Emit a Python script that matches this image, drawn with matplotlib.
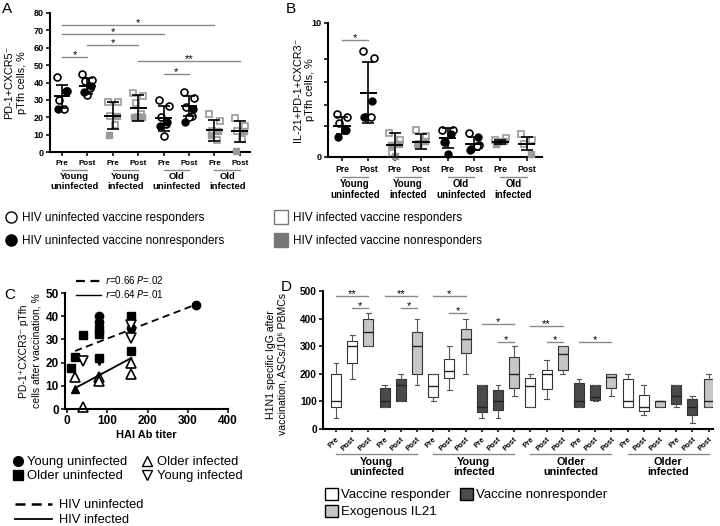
import matplotlib
matplotlib.use('Agg')
import matplotlib.pyplot as plt
from matplotlib.lines import Line2D
from matplotlib.patches import Patch
import numpy as np

plt.rcParams['font.family'] = ['Liberation Sans', 'DejaVu Sans']

# =============================================================================
# DATA
# =============================================================================
# --- Panel A: PD-1+CXCR5- pTfh cells, % ---
a_ticks = ['Pre', 'Post'] * 4
a_groups = ['Young\nuninfected', 'Young\ninfected', 'Old\nuninfected', 'Old\ninfected']
a_infected = [False, True, False, True]
a_open = [[43, 35, 30, 25], [45, 41.5, 41, 37, 33], [29, 29, 20.5, 15.5], [34, 32.5, 28, 22, 20],
          [30, 26.5, 20, 16, 9], [34.5, 31, 26, 20.5, 20], [22, 18, 12, 7], [19.5, 15, 12, 7.5]]
a_filled = [[35, 25], [38, 34.5], [20.5, 10], [20, 20], [17.5, 15], [25, 17.5], [12, 10], [12, 0.5]]
a_mean = [32, 38, 21, 25.5, 19.3, 26.5, 12.5, 12]
a_sd = [6.5, 4.5, 7.5, 7.5, 7, 6, 6, 6]
a_sig = [(0, 6, 73, '*'), (0, 4, 68, '*'), (1, 3, 61.5, '*'), (0, 1, 54.5, '*'),
         (3, 7, 52.5, '**'), (4, 5, 45, '*')]

# --- Panel B: IL-21+PD-1+CXCR3- pTfh cells, % ---
b_open = [[3.2, 3.0, 2.5, 2.0], [7.9, 7.4, 3.0, 3.0], [1.8, 1.25, 0.3], [2.0, 1.6, 1.0],
          [2.05, 2.05, 1.15], [1.8, 0.9, 0.6, 0.8], [1.3, 1.4, 1.1], [1.7, 1.3, 1.0]]
b_filled = [[2.0, 1.5], [4.2, 3.0], [1.0, 0.9, 0.05], [1.2, 1.0], [1.7, 1.15, 0.2], [1.5, 0.5],
            [1.2, 1.0], [0.2]]
b_mean = [2.35, 4.8, 0.9, 1.15, 1.45, 1.0, 1.15, 1.0]
b_sd = [0.6, 2.3, 0.9, 0.55, 0.75, 0.5, 0.15, 0.5]
b_sig = [(0, 1, 8.75, '*')]
b_minor = [2.3, 3.9, 5.6, 7.3]

# --- Panel C: HAI titer vs pTfh after vaccination ---
c_yu_x, c_yu_y = [80, 80, 160, 320], [40, 37.5, 35, 45]
c_ou_x = [10, 20, 40, 80, 80, 80, 160, 160]
c_ou_y = [17.5, 22.5, 32, 34.5, 32.5, 22, 40, 25]
c_oi_x, c_oi_y = [20, 40, 80, 80, 160, 160], [14, 1, 14, 12, 20, 15]
c_oi_nr_x, c_oi_nr_y = [20], [8.5]
c_yi_x, c_yi_y = [40, 160, 160], [20.5, 36, 30.5]
c_yi_nr_x, c_yi_nr_y = [80], [20.5]
c_fit_uninf = (0.0667, 23.67, 20, 320)   # slope, intercept, x from, x to
c_fit_inf = (0.0929, 7.14, 20, 160)

# --- Panel D: H1N1 specific IgG ASCs ---
d_ticks = ['Pre', 'Post', 'Post'] * 8
d_kind = ['resp', 'resp', 'il21', 'non', 'non', 'il21'] * 4
d_groups = ['Young\nuninfected', 'Young\ninfected', 'Older\nuninfected', 'Older\ninfected']
d_whislo = [40, 180, 300, 80, 100, 160, 100, 140, 200, 40, 40, 120,
            80, 110, 200, 80, 100, 120, 80, 50, 80, 80, 20, 80]
d_q1 = [80, 240, 300, 80, 100, 200, 115, 185, 275, 60, 70, 150,
        80, 145, 215, 80, 105, 150, 80, 65, 80, 90, 50, 80]
d_med = [100, 300, 350, 100, 160, 300, 155, 210, 325, 80, 100, 200,
         155, 200, 272, 100, 115, 190, 100, 80, 100, 120, 80, 100]
d_q3 = [200, 320, 400, 150, 180, 350, 200, 255, 362, 160, 140, 260,
        185, 215, 300, 165, 160, 200, 180, 125, 100, 160, 110, 180]
d_whishi = [240, 340, 420, 160, 200, 400, 200, 300, 400, 160, 160, 300,
            200, 250, 300, 180, 160, 200, 200, 160, 100, 160, 120, 200]
d_sig = [(0, 2, 483, '**'), (1, 2, 437, '*'), (3, 5, 483, '**'), (4, 5, 437, '*'),
         (6, 8, 483, '*'), (7, 8, 419, '*'), (9, 11, 380, '*'), (10, 11, 316, '*'),
         (12, 14, 374, '**'), (13, 14, 316, '*'), (15, 17, 316, '*')]

# =============================================================================
# STYLE HELPERS
# =============================================================================
W, H = 720, 526
GRAY_SQ = '#9a9a9a'
SIG_GRAY = '#8a8a8a'
BOX_COL = {'resp': 'white', 'non': '#4a4a4a', 'il21': '#c6c6c6'}

fig = plt.figure(figsize=(7.2, 5.26), dpi=100)


def px_axes(left, top, right, bottom):
    return fig.add_axes([left / W, 1 - bottom / H, (right - left) / W, (bottom - top) / H])


def style_axis(ax, lw=1.5, fs=6.5):
    for s in ['top', 'right']:
        ax.spines[s].set_visible(False)
    for s in ['left', 'bottom']:
        ax.spines[s].set_linewidth(lw)
    ax.tick_params(width=1.1, length=3, direction='out', pad=1.5, labelsize=fs)
    for lab in ax.get_xticklabels() + ax.get_yticklabels():
        lab.set_fontweight('bold')


def sig_bars(ax, bars, xs, fs=8):
    for a, b, y, lab in bars:
        ax.plot([xs[a], xs[b]], [y, y], color=SIG_GRAY, lw=1, clip_on=False)
        ax.annotate(lab, ((xs[a] + xs[b]) / 2, y), xytext=(0, 1.5), textcoords='offset points',
                    ha='center', va='center', fontsize=fs, annotation_clip=False)


def group_labels(ax, labels, centers, half, y_line, y_text, fs):
    trans = ax.get_xaxis_transform()
    for lab, c in zip(labels, centers):
        ax.plot([c - half, c + half], [y_line, y_line], color=SIG_GRAY, lw=1,
                transform=trans, clip_on=False)
        ax.text(c, y_text, lab, transform=trans, ha='center', va='top', fontsize=fs,
                fontweight='bold', linespacing=1.1)


JIT_OPEN = np.array([-0.2, 0.2, -0.1, 0.1, 0.0, -0.25, 0.25])
JIT_FILL = np.array([0.15, -0.15, 0.0])


def scatter_sd(ax, open_vals, filled_vals, means, sds, infected, ms=5):
    for i in range(len(means)):
        inf = infected[i // 2]
        xo = i + JIT_OPEN[:len(open_vals[i])]
        xf = i + JIT_FILL[:len(filled_vals[i])]
        if inf:
            ax.plot(xo, open_vals[i], 's', ms=ms, mfc='white', mec=GRAY_SQ, mew=1.2,
                    ls='none', clip_on=False, zorder=3)
            ax.plot(xf, filled_vals[i], 's', ms=ms, mfc=GRAY_SQ, mec=GRAY_SQ,
                    ls='none', clip_on=False, zorder=3)
        else:
            ax.plot(xo, open_vals[i], 'o', ms=ms, mfc='white', mec='black', mew=1.2,
                    ls='none', clip_on=False, zorder=3)
            ax.plot(xf, filled_vals[i], 'o', ms=ms, mfc='black', mec='black',
                    ls='none', clip_on=False, zorder=3)
    xs = np.arange(len(means))
    ax.errorbar(xs, means, yerr=sds, fmt='none', ecolor='black', elinewidth=1.2,
                capsize=4, capthick=1.2, zorder=4)
    ax.hlines(means, xs - 0.33, xs + 0.33, color='black', lw=1.4, zorder=4)


# =============================================================================
# PANEL A
# =============================================================================
axA = px_axes(50, 13, 250, 152)
scatter_sd(axA, a_open, a_filled, a_mean, a_sd, a_infected)
axA.set_xlim(-0.47, 7.4)
axA.set_ylim(0, 80)
axA.set_yticks(np.arange(0, 81, 10))
axA.set_xticks(np.arange(len(a_ticks)))
axA.set_xticklabels(a_ticks)
style_axis(axA, fs=6.5)
axA.tick_params(axis='x', labelsize=5.8, pad=3)
sig_bars(axA, a_sig, np.arange(len(a_ticks)))
group_labels(axA, a_groups, np.arange(0.5, 8, 2), 0.5, -0.13, -0.145, 6.8)
axA.set_ylabel('PD-1+CXCR5\u207b\npTfh cells, %', fontsize=7.8, linespacing=1.3)
axA.yaxis.set_label_coords(-0.115, 0.5)

# =============================================================================
# PANEL B
# =============================================================================
axB = px_axes(328, 23, 542, 157)
scatter_sd(axB, b_open, b_filled, b_mean, b_sd, a_infected)
axB.set_xlim(-0.53, 7.58)
axB.set_ylim(0, 10)
axB.set_yticks([0, 10])
axB.set_yticks(b_minor, minor=True)
axB.set_xticks(np.arange(len(a_ticks)))
axB.set_xticklabels(a_ticks)
style_axis(axB, fs=6.5)
axB.tick_params(axis='y', which='minor', length=3, width=1.1)
axB.tick_params(axis='x', labelsize=6.2, pad=3)
sig_bars(axB, b_sig, np.arange(len(a_ticks)))
group_labels(axB, a_groups, np.arange(0.5, 8, 2), 0.5, -0.149, -0.164, 7)
axB.set_ylabel('IL-21+PD-1+CXCR3\u207b\npTfh cells, %', fontsize=7.8, linespacing=1.3)
axB.yaxis.set_label_coords(-0.06, 0.5)

# legends under A / B
leg_prop = {'family': ['Liberation Sans', 'DejaVu Sans'], 'size': 8.5}
fig.legend(handles=[Line2D([], [], marker='o', ls='none', ms=8, mfc='white', mec='black', mew=1),
                    Line2D([], [], marker='o', ls='none', ms=8, mfc='black', mec='black')],
           labels=['HIV uninfected vaccine responders', 'HIV uninfected vaccine nonresponders'],
           loc='upper left', bbox_to_anchor=(5 / W, 1 - 212 / H), frameon=False,
           borderpad=0, borderaxespad=0, handlelength=1.1, handletextpad=0.35,
           labelspacing=0.95, prop=leg_prop)
fig.legend(handles=[Line2D([], [], marker='s', ls='none', ms=9.5, mfc='white', mec='#777777', mew=1),
                    Line2D([], [], marker='s', ls='none', ms=9.5, mfc='#777777', mec='#777777')],
           labels=['HIV infected vaccine responders', 'HIV infected vaccine nonresponders'],
           loc='upper left', bbox_to_anchor=(272 / W, 1 - 212 / H), frameon=False,
           borderpad=0, borderaxespad=0, handlelength=1.6, handletextpad=0.15,
           labelspacing=0.95, prop=leg_prop)

# =============================================================================
# PANEL C
# =============================================================================
axC = px_axes(65, 293, 228, 409)
axC.plot(c_yu_x, c_yu_y, 'o', ms=6, color='black', ls='none', clip_on=False)
axC.plot(c_ou_x, c_ou_y, 's', ms=6, color='black', ls='none', clip_on=False)
axC.plot(c_oi_x, c_oi_y, '^', ms=6.5, mfc='white', mec='black', mew=1.2, ls='none', clip_on=False)
axC.plot(c_oi_nr_x, c_oi_nr_y, '^', ms=6, color='black', ls='none', clip_on=False)
axC.plot(c_yi_x, c_yi_y, 'v', ms=6.5, mfc='white', mec='black', mew=1.2, ls='none', clip_on=False)
axC.plot(c_yi_nr_x, c_yi_nr_y, 'v', ms=6, color='black', ls='none', clip_on=False)
for (m, b, x0, x1), style in [(c_fit_uninf, (0, (4, 2.5))), (c_fit_inf, '-')]:
    xx = np.array([x0, x1])
    axC.plot(xx, m * xx + b, color='black', lw=1.3, ls=style)
axC.set_xlim(-5, 400)
axC.set_ylim(0, 50)
axC.set_xticks(np.arange(0, 401, 100))
axC.set_yticks(np.arange(0, 51, 10))
style_axis(axC, fs=8.5)
axC.set_xlabel('HAI Ab titer', fontsize=7.9, fontweight='bold', labelpad=2)
axC.set_ylabel('PD-1\u207aCXCR3\u207b pTfh\ncells after vaccination, %', fontsize=7.5, linespacing=1.3)
axC.yaxis.set_label_coords(-0.147, 0.5)
axC.legend(handles=[Line2D([], [], color='black', lw=1.6, ls=(0, (4, 2.5))),
                    Line2D([], [], color='black', lw=1)],
           labels=['$r$=0.66 $P$=.02', '$r$=0.64 $P$=.01'], loc='upper left',
           bbox_to_anchor=(0.067, 1.16), frameon=False, borderpad=0, borderaxespad=0,
           handlelength=2.5, handletextpad=0.4, labelspacing=0.2, fontsize=7.1)

fig.legend(handles=[Line2D([], [], marker='o', ls='none', ms=7, color='black'),
                    Line2D([], [], marker='s', ls='none', ms=7, color='black'),
                    Line2D([], [], marker='^', ls='none', ms=7.5, mfc='white', mec='black', mew=1),
                    Line2D([], [], marker='v', ls='none', ms=7.5, mfc='white', mec='black', mew=1)],
           labels=['Young uninfected', 'Older uninfected', 'Older infected', 'Young infected'],
           ncol=2, loc='upper left', bbox_to_anchor=(11 / W, 1 - 456 / H), frameon=False,
           borderpad=0, borderaxespad=0, handlelength=1.0, handletextpad=0.25,
           labelspacing=0.15, columnspacing=1.0, fontsize=9.4)
fig.legend(handles=[Line2D([], [], color='black', lw=1.8, ls=(0, (4, 2.5))),
                    Line2D([], [], color='black', lw=1.3)],
           labels=['HIV uninfected', 'HIV infected'], loc='upper left',
           bbox_to_anchor=(15 / W, 1 - 499 / H), frameon=False, borderpad=0, borderaxespad=0,
           handlelength=2.9, handletextpad=0.5, labelspacing=0.25, fontsize=9.3)

# =============================================================================
# PANEL D
# =============================================================================
axD = px_axes(323, 291, 713, 429)
stats = [dict(whislo=a, q1=b, med=c, q3=d, whishi=e, fliers=[])
         for a, b, c, d, e in zip(d_whislo, d_q1, d_med, d_q3, d_whishi)]
xd = np.arange(len(stats))
bp = axD.bxp(stats, positions=xd, widths=0.62, patch_artist=True, capwidths=0.3,
             boxprops=dict(edgecolor='#333333', linewidth=0.8),
             medianprops=dict(color='#222222', linewidth=1),
             whiskerprops=dict(color='#555555', linewidth=0.8),
             capprops=dict(color='#555555', linewidth=0.8))
for patch, kind in zip(bp['boxes'], d_kind):
    patch.set_facecolor(BOX_COL[kind])
axD.set_xlim(-0.8, 23.27)
axD.set_ylim(0, 500)
axD.set_yticks(np.arange(0, 501, 100))
axD.set_xticks(xd)
axD.set_xticklabels(d_ticks, rotation=45, ha='right', rotation_mode='anchor')
style_axis(axD, fs=7.2)
axD.tick_params(axis='x', labelsize=5.5, length=2.5, pad=2)
sig_bars(axD, d_sig, xd)
group_labels(axD, d_groups, np.arange(2.5, 24, 6), 2.5, -0.18, -0.2, 7.8)
axD.set_ylabel('H1N1 specific IgG after\nvaccination, ASCs/10\u2076 PBMCs', fontsize=7.6, linespacing=1.25)
axD.yaxis.set_label_coords(-0.09, 0.47)

fig.legend(handles=[Patch(facecolor=BOX_COL['resp'], edgecolor='black'),
                    Patch(facecolor=BOX_COL['il21'], edgecolor='black'),
                    Patch(facecolor=BOX_COL['non'], edgecolor='black')],
           labels=['Vaccine responder', 'Exogenous IL21', 'Vaccine nonresponder'],
           ncol=2, loc='upper left', bbox_to_anchor=(325 / W, 1 - 488 / H), frameon=False,
           borderpad=0, borderaxespad=0, handlelength=1.0, handleheight=1.0,
           handletextpad=0.25, labelspacing=0.25, columnspacing=0.7, fontsize=9.5)

# panel letters
for lab, x, y in [('A', 2, 2), ('B', 286, 2), ('C', 4, 288), ('D', 281, 280)]:
    fig.text(x / W, 1 - y / H, lab, fontsize=11, va='top', ha='left')

fig.savefig('out.png', dpi=100)
